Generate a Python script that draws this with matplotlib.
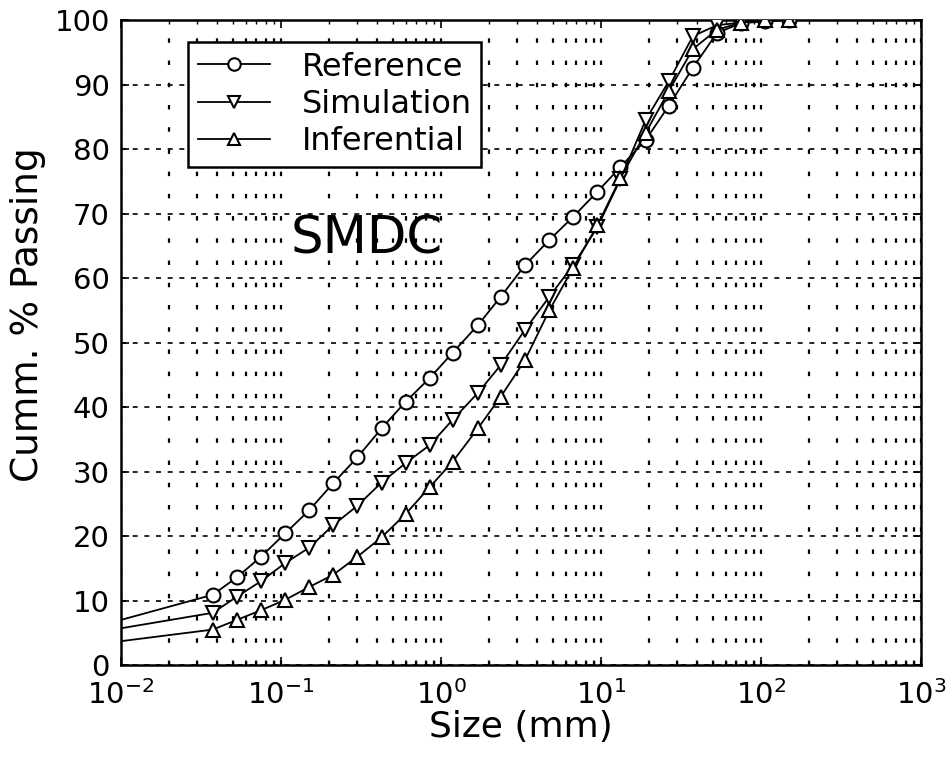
import matplotlib
matplotlib.use("Agg")
import matplotlib.pyplot as plt
import numpy as np
from matplotlib.ticker import LogLocator, NullFormatter

plt.rcParams['font.family'] = ['DejaVu Sans']
plt.rcParams['mathtext.fontset'] = 'dejavusans'

# Sieve sizes (mm); first point is the line start at the left edge (no marker)
sizes = [0.01, 0.0375, 0.053, 0.075, 0.106, 0.15, 0.212, 0.3, 0.425, 0.6, 0.85,
         1.18, 1.7, 2.36, 3.35, 4.75, 6.7, 9.5, 13.2, 19, 26.5, 37.5, 53, 75, 106, 150]

reference = [7.0, 10.9, 13.6, 16.8, 20.4, 24.0, 28.2, 32.2, 36.7, 40.8, 44.5,
             48.4, 52.7, 57.1, 62.0, 65.9, 69.5, 73.4, 77.2, 81.4, 86.7, 92.6, 98.0, 99.5, 99.8, 100.0]
simulation = [5.7, 8.1, 10.6, 13.0, 15.8, 18.2, 21.7, 24.7, 28.3, 31.3, 34.1,
              38.0, 42.2, 46.5, 52.0, 57.1, 62.0, 67.9, 75.3, 84.5, 90.5, 97.5, 99.2, 99.6, 100.0, 100.0]
inferential = [3.7, 5.5, 7.0, 8.5, 10.1, 12.1, 14.0, 16.8, 19.8, 23.4, 27.6,
               31.5, 36.7, 41.6, 47.3, 55.0, 61.6, 68.2, 75.5, 82.5, 89.0, 95.5, 98.5, 99.6, 100.0, 100.0]

x_ticks = [1e-2, 1e-1, 1e0, 1e1, 1e2, 1e3]
x_labels = ['$10^{-2}$', '$10^{-1}$', '$10^{0}$', '$10^{1}$', '$10^{2}$', '$10^{3}$']
y_ticks = list(range(0, 101, 10))

fig = plt.figure(figsize=(9.53, 7.59), dpi=100)
ax = fig.add_axes([0.127, 0.1238, 0.8395, 0.8498])

series = [(reference, 'o', 'Reference'),
          (simulation, 'v', 'Simulation'),
          (inferential, '^', 'Inferential')]
for vals, mk, lab in series:
    ax.plot(sizes, vals, color='black', lw=1.3, marker=mk, markersize=10,
            markerfacecolor='white', markeredgecolor='black', markeredgewidth=1.5,
            markevery=list(range(1, len(sizes))), label=lab, zorder=3)

ax.set_xscale('log')
ax.set_xlim(1e-2, 1e3)
ax.set_ylim(0, 100)
ax.set_xticks(x_ticks)
ax.set_xticklabels(x_labels)
ax.xaxis.set_minor_locator(LogLocator(base=10, subs=np.arange(2, 10)))
ax.xaxis.set_minor_formatter(NullFormatter())
ax.set_yticks(y_ticks)

ax.tick_params(axis='both', which='major', direction='in', length=6, width=1.2,
               labelsize=21, top=True, right=True)
ax.tick_params(axis='x', which='major', pad=11)
ax.tick_params(axis='y', which='major', pad=8)
ax.tick_params(axis='x', which='minor', direction='in', length=3, width=1, top=True)

ax.xaxis.grid(True, which='both', color='black', linestyle=(0, (2, 8)), lw=1.6)
ax.yaxis.grid(True, which='major', color='black', linestyle=(0, (3, 4)), lw=1.2)
ax.set_axisbelow(True)

for s in ax.spines.values():
    s.set_linewidth(1.8)

ax.set_xlabel('Size (mm)', fontsize=26, labelpad=0)
ax.set_ylabel('Cumm. % Passing', fontsize=27)
ax.yaxis.set_label_coords(-0.094, 0.543)

ax.text(0.3075, 0.659, 'SMDC', transform=ax.transAxes, fontsize=37,
        ha='center', va='center', zorder=4)

leg = ax.legend(loc='upper left', bbox_to_anchor=(0.084, 0.966), borderaxespad=0,
                fontsize=23, handlelength=2.25, frameon=True, fancybox=False,
                edgecolor='black', framealpha=1, borderpad=0.3, labelspacing=0.2,
                handletextpad=1.0, markerscale=0.9)
leg.get_frame().set_linewidth(1.8)
leg.set_zorder(5)

fig.savefig('out.png', dpi=100)
